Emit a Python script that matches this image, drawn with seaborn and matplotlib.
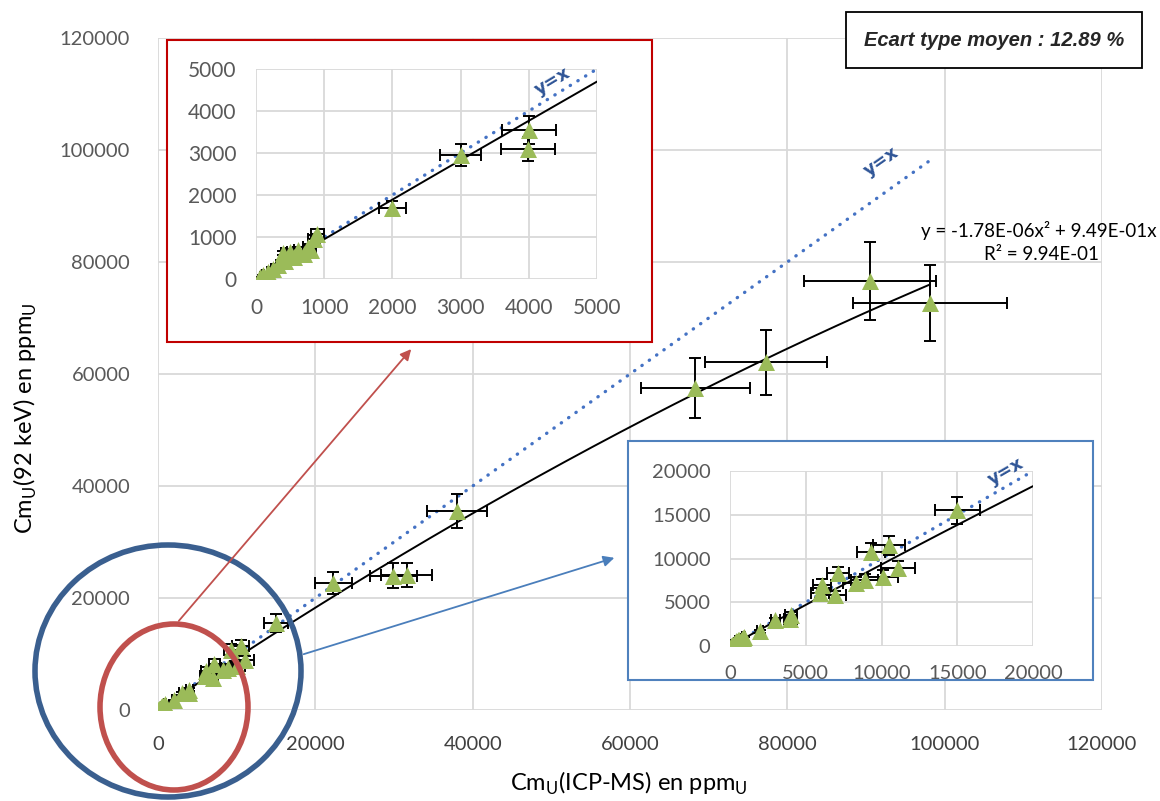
import numpy as np
import pandas as pd
import matplotlib
matplotlib.use("Agg")
import matplotlib.pyplot as plt
import seaborn as sns
from matplotlib.patches import Rectangle, Ellipse, FancyArrowPatch

# Valeurs
x_icp = [60, 100, 180, 250, 320, 400, 430, 500, 560, 620, 700, 760, 800, 850, 900,
         2000, 3000, 4000, 3990,
         5950, 6050, 6950, 7150, 8300, 8900, 9300, 10100, 10500, 11100,
         15000, 22300, 29900, 31600, 38000, 68300, 77300, 90500, 98100]
y_92kev = [40, 90, 160, 250, 330, 620, 420, 650, 520, 700, 600, 760, 680, 950, 1080,
           1700, 2950, 3550, 3100,
           6100, 7000, 5800, 8300, 7200, 7500, 10800, 7900, 11500, 8900,
           15500, 22700, 24000, 24100, 35500, 57500, 62100, 76600, 72700]
x_err = [6, 10, 18, 25, 32, 40, 43, 50, 56, 62, 70, 76, 80, 85, 90,
         200, 300, 400, 400,
         600, 600, 700, 720, 830, 890, 930, 1010, 1050, 1110,
         1500, 2300, 3000, 3200, 3800, 6900, 7800, 8400, 9800]
y_err = [4, 8, 15, 23, 30, 57, 39, 60, 48, 65, 55, 70, 63, 88, 100,
         160, 270, 330, 290,
         570, 650, 540, 770, 670, 700, 1000, 730, 1070, 830,
         1560, 2000, 2200, 2200, 3000, 5400, 5800, 7000, 6800]

# Courbe de tendance (équation affichée)
coef_a = -1.78e-06
coef_b = 9.49e-01
texte_eq = "y = -1.78E-06x² + 9.49E-01x"
texte_r2 = "R² = 9.94E-01"
texte_ecart = "Ecart type moyen : 12.89 %"

main_ticks = [0, 20000, 40000, 60000, 80000, 100000, 120000]
red_ticks = [0, 1000, 2000, 3000, 4000, 5000]
blue_ticks = [0, 5000, 10000, 15000, 20000]

df = pd.DataFrame({"icp": x_icp, "kev": y_92kev, "xerr": x_err, "yerr": y_err})

sns.set_style("white")
plt.rcParams["font.family"] = ["Lato", "DejaVu Sans"]

W, H = 1160, 801
def fx(px):
    return px / W
def fy(py):
    return 1 - py / H

VERT = "#9BBB59"
BLEU = "#4472C4"
GRIS = "#D9D9D9"

fig = plt.figure(figsize=(11.6, 8.01), dpi=100)


def tracer(ax, xmax, ticks, x_end, label_pos, label_rot, fs_tick, pad_x, pad_y, tick_color_x):
    # y = x
    ax.plot([0, x_end], [0, x_end], color=BLEU, linewidth=2.4,
            linestyle=(0, (0.1, 2.6)), dash_capstyle="round", zorder=2)
    # tendance
    xs = np.linspace(min(x_icp), x_end, 200)
    ax.plot(xs, coef_a * xs ** 2 + coef_b * xs, color="black", linewidth=1.4, zorder=3)
    ax.errorbar(df["icp"], df["kev"], xerr=df["xerr"], yerr=df["yerr"], fmt="none",
                ecolor="black", elinewidth=1.4, capsize=4.5, capthick=1.4, zorder=4)
    sns.scatterplot(data=df, x="icp", y="kev", marker="^", s=150, color=VERT,
                    edgecolor=VERT, linewidth=0, ax=ax, zorder=5, legend=False)
    ax.set_xlim(0, xmax)
    ax.set_ylim(0, xmax)
    ax.set_xticks(ticks)
    ax.set_yticks(ticks)
    ax.grid(True, color=GRIS, linewidth=1.3)
    for s in ax.spines.values():
        s.set_visible(False)
    ax.tick_params(length=0, labelsize=fs_tick)
    ax.tick_params(axis="x", labelcolor=tick_color_x, pad=pad_x)
    ax.tick_params(axis="y", labelcolor="#595959", pad=pad_y)
    ax.set_xlabel("")
    ax.set_ylabel("")
    ax.set_axisbelow(True)
    ax.text(label_pos[0], label_pos[1], "y=x", color="#2F5597", fontweight="bold",
            fontsize=13, rotation=label_rot, ha="center", va="center",
            family=["DejaVu Sans"], zorder=6)


# Graphique principal
ax = fig.add_axes([fx(158), fy(710), fx(1102) - fx(158), fy(38) - fy(710)])
tracer(ax, 120000, main_ticks, max(x_icp), (92000, 98000), 35, 14.5, 19, 20, "#404040")

# Encadré rouge (0-5000)
fig.patches.append(Rectangle((fx(167), fy(342)), fx(652) - fx(167), fy(40) - fy(342),
                             transform=fig.transFigure, facecolor="white",
                             edgecolor="#C00000", linewidth=1.5, zorder=1))
ax_r = fig.add_axes([fx(256), fy(279), fx(597) - fx(256), fy(69) - fy(279)])
ax_r.set_zorder(2)
tracer(ax_r, 5000, red_ticks, 5000, (4350, 4700), 31, 15, 14, 14, "#595959")

# Encadré bleu (0-20000)
fig.patches.append(Rectangle((fx(628), fy(680)), fx(1093) - fx(628), fy(441) - fy(680),
                             transform=fig.transFigure, facecolor="white",
                             edgecolor="#4F81BD", linewidth=1.5, zorder=1))
ax_b = fig.add_axes([fx(730), fy(646), fx(1033) - fx(730), fy(471) - fy(646)])
ax_b.set_zorder(2)
tracer(ax_b, 20000, blue_ticks, 20000, (18200, 19900), 30, 14.5, 14, 14, "#595959")

# Cercles et flèches
fig.patches.append(Ellipse((fx(168), fy(671)), fx(266), 252 / H, transform=fig.transFigure,
                           fill=False, edgecolor="#3A5F8F", linewidth=4, zorder=3))
fig.patches.append(Ellipse((fx(174), fy(707)), fx(148), 166 / H, transform=fig.transFigure,
                           fill=False, edgecolor="#C0504D", linewidth=4, zorder=3))
fig.patches.append(FancyArrowPatch((fx(177), fy(623)), (fx(413), fy(347)),
                                   transform=fig.transFigure, arrowstyle="-|>",
                                   mutation_scale=16, color="#C0504D", linewidth=1.3, zorder=3))
fig.patches.append(FancyArrowPatch((fx(301), fy(655)), (fx(617), fy(557)),
                                   transform=fig.transFigure, arrowstyle="-|>",
                                   mutation_scale=16, color="#4A7EBB", linewidth=1.3, zorder=3))

# Textes
fig.text(fx(1157), fy(231), texte_eq, ha="right", va="center", fontsize=13.5, color="black")
fig.text(fx(1099), fy(255), texte_r2, ha="right", va="center", fontsize=13.5, color="black")
fig.text(fx(994), fy(40), texte_ecart, ha="center", va="center", fontsize=14.5,
         fontweight="bold", style="italic", family=["Liberation Sans", "DejaVu Sans"],
         bbox=dict(boxstyle="square,pad=0.9", facecolor="white", edgecolor="black", linewidth=1.3),
         zorder=6)
fig.text(fx(629), fy(783), r"Cm$_{\mathregular{U}}$(ICP-MS) en ppm$_{\mathregular{U}}$",
         ha="center", va="center", fontsize=17, color="black")
fig.text(fx(25), fy(418), r"Cm$_{\mathregular{U}}$(92 keV) en ppm$_{\mathregular{U}}$",
         ha="center", va="center", fontsize=17, color="black", rotation=90)

fig.savefig("out.png", dpi=100)
